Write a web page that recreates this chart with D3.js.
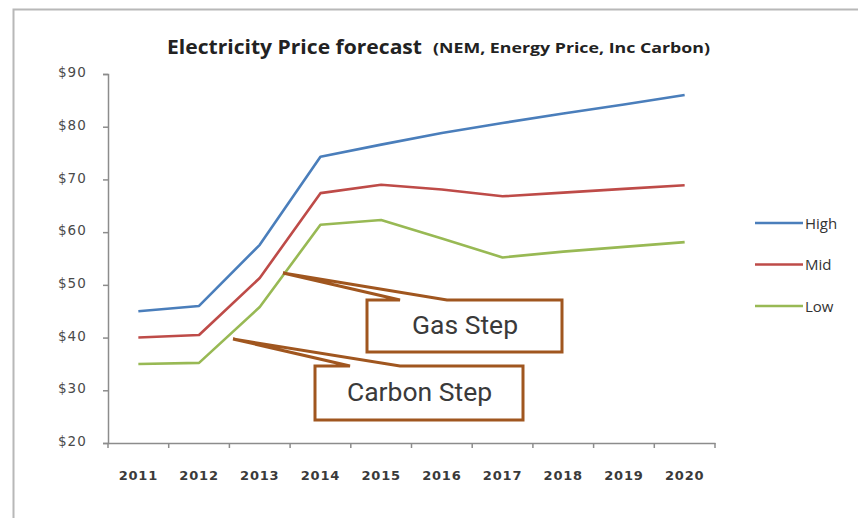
<!DOCTYPE html>
<html><head><meta charset="utf-8">
<script src="https://cdn.jsdelivr.net/npm/d3@7"></script>
<style>body{margin:0;background:#fff}svg{display:block}</style>
</head><body>
<svg id="c" width="858" height="518"></svg>
<script>
const years = ["2011","2012","2013","2014","2015","2016","2017","2018","2019","2020"];
const high = [45, 46, 57.6, 74.3, 76.6, 78.8, 80.7, 82.5, 84.2, 86];
const mid  = [40, 40.5, 51.3, 67.4, 69, 68.1, 66.8, 67.5, 68.2, 68.9];
const low  = [35, 35.2, 45.8, 61.4, 62.3, 58.8, 55.2, 56.3, 57.2, 58.1];
const seriesNames = ["High","Mid","Low"];
const seriesColors = ["#4a7ebb","#be4b48","#98b954"];
const yTicks = [20,30,40,50,60,70,80,90];
const title = "Electricity Price forecast";
const subtitle = "(NEM, Energy Price, Inc Carbon)";
const notes = ["Gas Step", "Carbon Step"];

const svg = d3.select("#c");
// outer border
svg.append("rect").attr("x",13.5).attr("y",9.5).attr("width",900).attr("height",600)
  .attr("fill","#fff").attr("stroke","#b8b8b8").attr("stroke-width",2);

const x = d3.scaleBand().domain(years).range([108,715]).padding(0);
const y = d3.scaleLinear().domain([20,90]).range([443,74]);
const cx = d => x(d)+x.bandwidth()/2;

// y axis
const yAxis = svg.append("g").attr("transform","translate(108,0)")
  .call(d3.axisLeft(y).tickValues(yTicks).tickSize(5).tickFormat(d=>"$"+d));
yAxis.select(".domain").attr("stroke","#8c8c8c").attr("stroke-width",1.5);
yAxis.selectAll(".tick line").attr("stroke","#8c8c8c").attr("stroke-width",1.5);
yAxis.selectAll(".tick text").attr("x",-21).attr("dy","0.2em").attr("fill","#4a4a4a")
  .style("font-family","DejaVu Sans").style("font-size","13.5px").style("letter-spacing","1.1px");

// x axis
const xAxis = svg.append("g").attr("transform","translate(0,443)")
  .call(d3.axisBottom(x).tickSize(0).tickPadding(28));
xAxis.select(".domain").attr("stroke","#8c8c8c").attr("stroke-width",1.5);
xAxis.selectAll(".tick text").attr("fill","#3a3a3a")
  .style("font-family","DejaVu Sans").style("font-weight","bold").style("font-size","13px").style("letter-spacing","0.8px");
xAxis.selectAll(".bt").data(years.concat(["end"])).enter().append("line")
  .attr("x1",(d,i)=> i<years.length ? x(d) : x.range()[1])
  .attr("x2",(d,i)=> i<years.length ? x(d) : x.range()[1])
  .attr("y1",0).attr("y2",5).attr("stroke","#8c8c8c").attr("stroke-width",1.5);

// lines
const line = d3.line().x((d,i)=>cx(years[i])).y(d=>y(d));
[high,mid,low].forEach((s,k)=>{
  svg.append("path").datum(s).attr("d",line).attr("fill","none")
    .attr("stroke",seriesColors[k]).attr("stroke-width",2.6).attr("stroke-linejoin","round");
});

// title
svg.append("text").attr("x",167).attr("y",54).attr("fill","#222")
  .style("font-family","Open Sans").style("font-weight","bold").style("font-size","20px")
  .attr("textLength",255).attr("lengthAdjust","spacingAndGlyphs").text(title);
svg.append("text").attr("x",433).attr("y",53).attr("fill","#222")
  .style("font-family","Open Sans").style("font-weight","bold").style("font-size","15px")
  .attr("textLength",277).attr("lengthAdjust","spacingAndGlyphs").text(subtitle);

// legend
const lg = svg.append("g");
seriesNames.forEach((n,k)=>{
  const ly = 223 + k*41.5;
  lg.append("line").attr("x1",755).attr("x2",803).attr("y1",ly).attr("y2",ly)
    .attr("stroke",seriesColors[k]).attr("stroke-width",2.6);
  lg.append("text").attr("x",805).attr("y",ly+5.5).attr("fill","#333")
    .style("font-family","Open Sans").style("font-size","15px").text(n);
});

// callouts
const brown = "#a0561f";
const boxes = [
  {x0:367, y0:300, x1:562, y1:352, b0:400, b1:447, tx:283, ty:273, base:334},
  {x0:315, y0:366, x1:523, y1:420, b0:350, b1:400, tx:233, ty:339, base:401}
];
notes.forEach((n,i)=>{
  const b = boxes[i];
  const p = d3.path();
  p.moveTo(b.x0,b.y0); p.lineTo(b.b0,b.y0); p.lineTo(b.tx,b.ty); p.lineTo(b.b1,b.y0);
  p.lineTo(b.x1,b.y0); p.lineTo(b.x1,b.y1); p.lineTo(b.x0,b.y1); p.closePath();
  svg.append("path").attr("d",p.toString()).attr("fill","#fff").attr("stroke",brown)
    .attr("stroke-width",3).attr("stroke-linejoin","miter");
  svg.append("text").attr("x",(b.x0+b.x1)/2+0.5).attr("y",b.base)
    .attr("text-anchor","middle").attr("fill","#3a3a3a")
    .style("font-family","Roboto").style("font-size","26.5px").text(n);
});
</script>
</body></html>
